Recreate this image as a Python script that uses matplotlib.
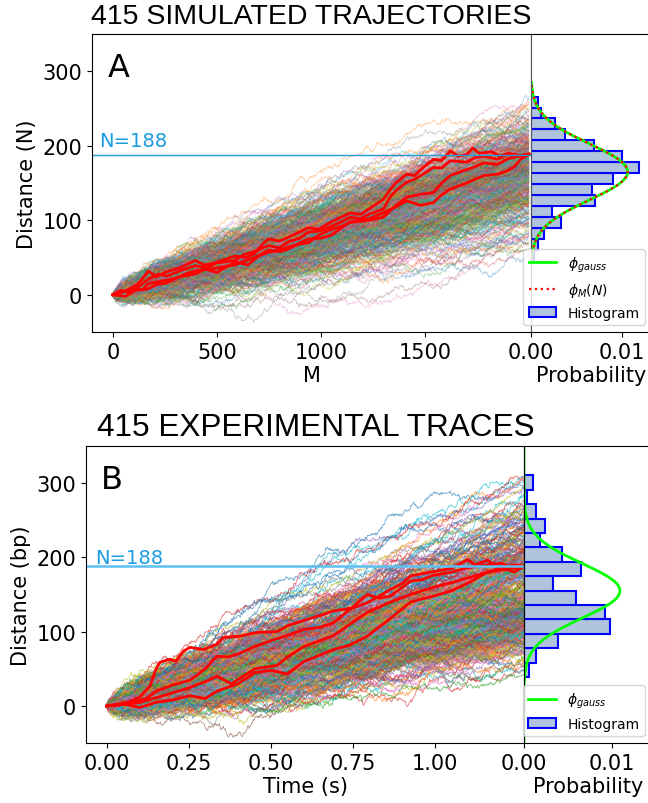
import numpy as np
import matplotlib
matplotlib.use("Agg")
import matplotlib.pyplot as plt
from matplotlib.collections import LineCollection
from matplotlib.ticker import FormatStrFormatter

# ---- data ----
n_traces = 415
n_target = 188

# panel A : end-point histogram (counts per bin), bins from 46 to 266
a_bin_lo, a_bin_hi = 46.0, 266.0
a_counts = [2, 5, 9, 20, 14, 43, 41, 55, 72, 61, 42, 23, 16, 7, 5]   # bottom -> top
a_mu, a_sd = 165.0, 37.6
a_mmax = 2000

# panel B : end-point histogram, bins from 39 to 310
b_bin_lo, b_bin_hi = 39.0, 310.0
b_counts = [5, 11, 31, 78, 74, 47, 26, 52, 35, 15, 19, 11, 3, 8]    # bottom -> top
b_mu, b_sd = 155.0, 36.7
b_tmax = 1.27

# highlighted (red) trajectories, (M, N) waypoints
red_a = [
    [(0, 0), (60, 5), (120, 14), (171, 32), (210, 24), (250, 30), (320, 36), (396, 46), (440, 40), (480, 42),
     (588, 52), (640, 50), (680, 55), (720, 68), (748, 75), (800, 72), (850, 78), (940, 90), (990, 88),
     (1050, 98), (1141, 110), (1190, 108), (1230, 115), (1300, 128), (1330, 140), (1360, 150), (1413, 162),
     (1450, 160), (1480, 168), (1541, 182), (1580, 180), (1622, 193), (1660, 186), (1700, 188), (1730, 197),
     (1760, 190), (1820, 192), (1860, 186), (1900, 190), (1960, 187), (2000, 189)],
    [(0, 0), (40, 6), (80, 3), (130, 12), (171, 21), (220, 28), (260, 25), (330, 33), (396, 39), (450, 36),
     (500, 43), (588, 46), (630, 54), (680, 58), (748, 66), (800, 63), (850, 72), (900, 76), (940, 84),
     (1000, 86), (1050, 92), (1100, 98), (1141, 104), (1190, 102), (1230, 108), (1300, 115), (1330, 130),
     (1360, 140), (1413, 151), (1450, 155), (1480, 160), (1541, 171), (1580, 170), (1622, 180), (1700, 178),
     (1740, 184), (1782, 186), (1850, 182), (1894, 188), (1950, 186), (2000, 189)],
    [(0, 0), (60, -2), (110, 6), (171, 8), (210, 14), (250, 15), (320, 24), (396, 28), (440, 34), (480, 35),
     (540, 38), (588, 40), (640, 46), (680, 50), (748, 57), (800, 60), (850, 65), (900, 68), (940, 70),
     (990, 80), (1050, 88), (1100, 92), (1141, 97), (1230, 100), (1300, 104), (1330, 112), (1360, 120),
     (1413, 131), (1480, 135), (1541, 137), (1580, 150), (1622, 160), (1700, 168), (1740, 172), (1782, 177),
     (1850, 175), (1894, 182), (1950, 186), (2000, 188)],
    [(0, 0), (50, 4), (100, 10), (140, 6), (171, 15), (230, 18), (300, 22), (350, 28), (396, 32), (450, 34),
     (500, 30), (550, 38), (588, 44), (650, 40), (700, 52), (748, 60), (800, 58), (850, 62), (900, 70),
     (940, 75), (1000, 76), (1050, 80), (1100, 90), (1141, 98), (1230, 102), (1300, 110), (1360, 118),
     (1413, 126), (1480, 120), (1541, 124), (1580, 134), (1622, 142), (1700, 150), (1782, 160), (1850, 162),
     (1894, 166), (1930, 172), (1960, 182), (2000, 188)],
]

# highlighted (red) traces, (time s, bp) waypoints
red_b = [
    [(0, 0), (0.05, 2), (0.10, 12), (0.132, 27), (0.15, 50), (0.163, 59), (0.193, 63), (0.21, 60),
     (0.234, 74), (0.254, 79), (0.295, 76), (0.335, 83), (0.355, 92), (0.406, 94), (0.457, 99),
     (0.518, 100), (0.55, 108), (0.60, 115), (0.65, 122), (0.691, 128), (0.75, 132), (0.793, 139),
     (0.83, 148), (0.864, 157), (0.90, 165), (0.925, 175), (0.996, 181), (1.05, 185), (1.098, 197),
     (1.12, 190), (1.159, 196), (1.20, 184), (1.24, 190), (1.27, 188)],
    [(0, 0), (0.04, 3), (0.08, 5), (0.12, 10), (0.15, 20), (0.2, 28), (0.254, 35), (0.30, 50), (0.335, 67),
     (0.37, 66), (0.40, 70), (0.45, 80), (0.50, 88), (0.55, 95), (0.60, 103), (0.65, 106), (0.691, 112),
     (0.74, 130), (0.793, 150), (0.83, 145), (0.864, 148), (0.925, 168), (0.96, 170), (0.996, 176),
     (1.05, 180), (1.098, 186), (1.159, 190), (1.20, 192), (1.24, 185), (1.27, 188)],
    [(0, 0), (0.05, 2), (0.10, 5), (0.18, 15), (0.254, 25), (0.30, 33), (0.335, 40), (0.38, 30),
     (0.45, 50), (0.52, 55), (0.55, 66), (0.60, 80), (0.691, 95), (0.74, 110), (0.793, 126), (0.864, 140),
     (0.925, 150), (0.996, 160), (1.05, 166), (1.098, 172), (1.159, 180), (1.24, 186), (1.27, 188)],
    [(0, 0), (0.05, 3), (0.10, -2), (0.15, 5), (0.20, 8), (0.254, 14), (0.30, 10), (0.335, 20),
     (0.40, 30), (0.45, 45), (0.50, 48), (0.55, 43), (0.60, 60), (0.691, 76), (0.74, 82), (0.793, 94),
     (0.864, 118), (0.925, 140), (0.996, 148), (1.05, 155), (1.098, 165), (1.159, 180), (1.20, 186),
     (1.24, 180), (1.27, 188)],
]

title_a = "415 SIMULATED TRAJECTORIES"
title_b = "415 EXPERIMENTAL TRACES"

tab10 = plt.rcParams['axes.prop_cycle'].by_key()['color']
rng = np.random.default_rng(415)


def end_points(counts, lo, hi):
    # spread each bin's count evenly inside the bin
    edges = np.linspace(lo, hi, len(counts) + 1)
    ends = []
    for i, c in enumerate(counts):
        ends.extend(np.linspace(edges[i], edges[i + 1], c + 2)[1:-1])
    ends = np.array(ends)
    return ends[rng.permutation(len(ends))], edges


def bundle(ends, x, step_sd):
    # bridge from 0 to each end point
    lines = []
    for e in ends:
        w = np.cumsum(rng.normal(0, step_sd, len(x)))
        w -= w[0]
        w -= x / x[-1] * w[-1]
        lines.append(np.column_stack([x, e * x / x[-1] + w]))
    return lines


def gauss(y, mu, sd):
    return np.exp(-0.5 * ((y - mu) / sd) ** 2) / (np.sqrt(2 * np.pi) * sd)


fig = plt.figure(figsize=(6.48, 8.04), dpi=100)

ax_a = fig.add_axes([0.142, 0.5858, 0.6775, 0.3706])
ax_ah = fig.add_axes([0.8194, 0.5858, 0.187, 0.3706])
ax_b = fig.add_axes([0.1327, 0.0743, 0.676, 0.3701])
ax_bh = fig.add_axes([0.8086, 0.0743, 0.1975, 0.3701])

# ---- panel A ----
ends_a, edges_a = end_points(a_counts, a_bin_lo, a_bin_hi)
m = np.linspace(0, a_mmax, 1001)
lc = LineCollection(bundle(ends_a, m, 1.2), colors=tab10, linewidths=0.6, alpha=0.35)
ax_a.add_collection(lc)
for tr in red_a:
    tr = np.array(tr)
    ax_a.plot(tr[:, 0], tr[:, 1], color='red', lw=2)
ax_a.axhline(n_target, color='#2399d6', lw=1)
ax_a.text(-68, 200, 'N=188', color='#1a9be2', fontsize=14)
ax_a.text(0.035, 0.94, 'A', transform=ax_a.transAxes, fontsize=23, va='top')
ax_a.set_xlim(-100, 2010)
ax_a.set_ylim(-50, 350)
ax_a.set_xticks([0, 500, 1000, 1500])
ax_a.set_yticks([0, 100, 200, 300])
ax_a.set_xlabel('M', fontsize=15, labelpad=2)
ax_a.set_ylabel('Distance (N)', fontsize=15)
ax_a.tick_params(labelsize=15)
ax_a.set_title(title_a, fontsize=20.5, family='Liberation Sans', pad=8)

centers_a = (edges_a[:-1] + edges_a[1:]) / 2
ax_ah.hist(centers_a, bins=edges_a, weights=a_counts, density=True, orientation='horizontal',
           facecolor='#b0c4de', edgecolor='blue', lw=1.5, label='Histogram')
ya = np.linspace(48, 285, 300)
ax_ah.plot(gauss(ya, a_mu, a_sd), ya, color='lime', lw=2, label=r'$\phi_{gauss}$')
ax_ah.plot(gauss(ya, a_mu, a_sd), ya, color='red', ls=':', lw=1.6, label=r'$\phi_M(N)$')
ax_ah.set_ylim(-50, 350)
ax_ah.set_xlim(0, 0.0133)
ax_ah.set_xticks([0, 0.01])
ax_ah.xaxis.set_major_formatter(FormatStrFormatter('%.2f'))
ax_ah.tick_params(left=False, labelleft=False, labelsize=15)
ax_ah.spines['left'].set_color('#555555')
ax_ah.set_xlabel('Probability', fontsize=15, labelpad=2)
h, l = ax_ah.get_legend_handles_labels()
ax_ah.legend([h[1], h[2], h[0]], [l[1], l[2], l[0]], loc='lower right', fontsize=10)

# ---- panel B ----
ends_b, edges_b = end_points(b_counts, b_bin_lo, b_bin_hi)
t = np.linspace(0, b_tmax, 801)
lc = LineCollection(bundle(ends_b, t, 1.4), colors=tab10, linewidths=0.65, alpha=0.6)
ax_b.add_collection(lc)
for tr in red_b:
    tr = np.array(tr)
    ax_b.plot(tr[:, 0], tr[:, 1], color='red', lw=2)
ax_b.axhline(n_target, color='#5cc0f2', lw=1.8)
ax_b.text(-0.034, 192, 'N=188', color='#1a9be2', fontsize=14)
ax_b.text(0.035, 0.94, 'B', transform=ax_b.transAxes, fontsize=23, va='top')
ax_b.set_xlim(-0.063, b_tmax)
ax_b.set_ylim(-50, 350)
ax_b.set_xticks([0, 0.25, 0.5, 0.75, 1.0])
ax_b.xaxis.set_major_formatter(FormatStrFormatter('%.2f'))
ax_b.set_yticks([0, 100, 200, 300])
ax_b.set_xlabel('Time (s)', fontsize=15, labelpad=2)
ax_b.set_ylabel('Distance (bp)', fontsize=15)
ax_b.tick_params(labelsize=15)
ax_b.set_title(title_b, fontsize=22.7, family='Liberation Sans', pad=8, x=0.525)

centers_b = (edges_b[:-1] + edges_b[1:]) / 2
ax_bh.hist(centers_b, bins=edges_b, weights=b_counts, density=True, orientation='horizontal',
           facecolor='#b0c4de', edgecolor='blue', lw=1.5, label='Histogram')
yb = np.linspace(-50, 350, 400)
ax_bh.plot(gauss(yb, b_mu, b_sd), yb, color='lime', lw=2, label=r'$\phi_{gauss}$')
ax_bh.axvline(0, color='#2a6a2a', lw=1.2)
ax_bh.set_ylim(-50, 350)
ax_bh.set_xlim(0, 0.0145)
ax_bh.set_xticks([0, 0.01])
ax_bh.xaxis.set_major_formatter(FormatStrFormatter('%.2f'))
ax_bh.tick_params(left=False, labelleft=False, labelsize=15)
ax_bh.set_xlabel('Probability', fontsize=15, labelpad=2)
h, l = ax_bh.get_legend_handles_labels()
ax_bh.legend([h[1], h[0]], [l[1], l[0]], loc='lower right', fontsize=10)

fig.savefig('out.png', dpi=100)
